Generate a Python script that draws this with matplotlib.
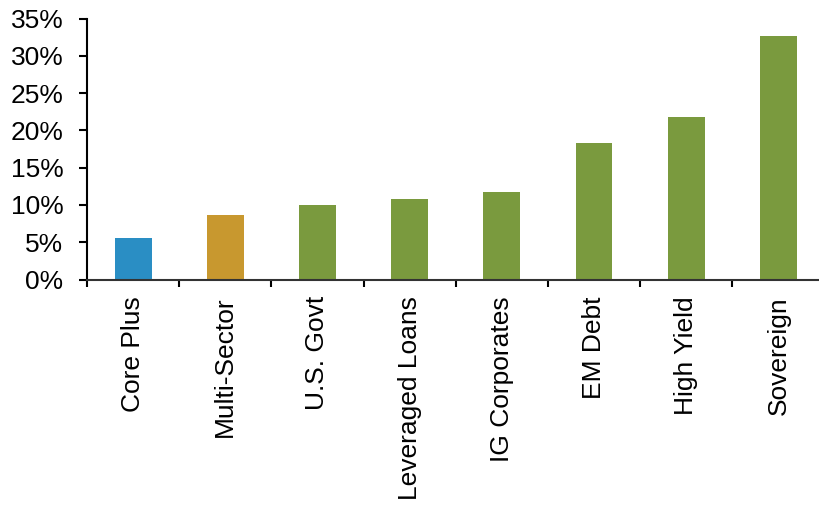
import matplotlib.pyplot as plt
from matplotlib.ticker import FuncFormatter

categories = ["Core Plus", "Multi-Sector", "U.S. Govt", "Leveraged Loans",
              "IG Corporates", "EM Debt", "High Yield", "Sovereign"]
values = [5.6, 8.6, 10.0, 10.8, 11.7, 18.3, 21.8, 32.7]
colors = ["#2a8ec4", "#c8982f"] + ["#7a9a3e"] * 6

plt.rcParams["font.family"] = ["Liberation Sans", "DejaVu Sans"]

fig = plt.figure(figsize=(8.19, 5.05), dpi=100)
ax = fig.add_axes([87 / 819, 1 - 279.5 / 505, (819 - 87) / 819, (279.5 - 18.5) / 505])

x = list(range(len(categories)))
ax.bar(x, values, width=0.4, color=colors)

ax.set_ylim(0, 35)
ax.set_yticks(range(0, 36, 5))
ax.yaxis.set_major_formatter(FuncFormatter(lambda v, p: "%d%%" % v))
ax.set_xlim(-0.5, 7.44)

# ticks sit between categories, labels at centres
ax.set_xticks([i - 0.5 for i in range(8)])
ax.set_xticklabels([])
ax.set_xticks(x, minor=True)
ax.set_xticklabels(categories, minor=True, rotation=90, fontsize=19)
ax.tick_params(axis="x", which="minor", length=0, pad=12)
ax.tick_params(axis="x", which="major", direction="out", length=5, width=1.5)
ax.tick_params(axis="y", direction="out", length=6, width=1.5, labelsize=19, pad=11)

for s in ["top", "right"]:
    ax.spines[s].set_visible(False)
for s in ["left", "bottom"]:
    ax.spines[s].set_linewidth(1.5)
ax.spines["bottom"].set_color("#333333")

fig.savefig("out.png", dpi=100)
